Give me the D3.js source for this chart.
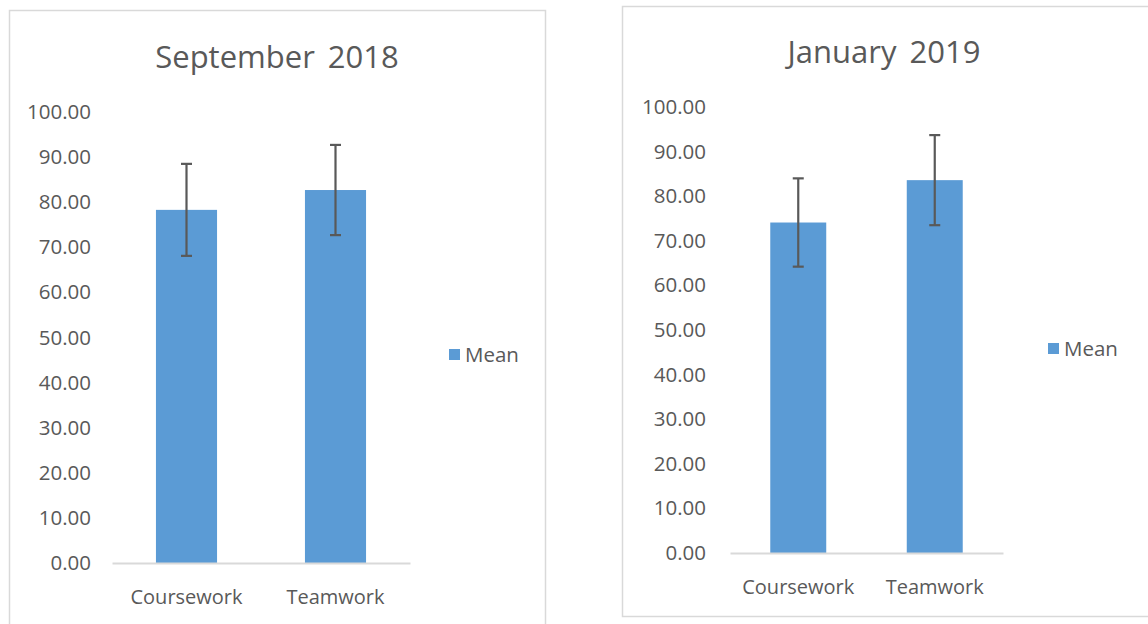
<!DOCTYPE html>
<html><head><meta charset="utf-8">
<script src="https://cdn.jsdelivr.net/npm/d3@7"></script>
<style>
html,body{margin:0;padding:0;background:#fff;}
svg{display:block;font-family:"Open Sans",sans-serif;}
</style></head>
<body><svg id="c" width="1148" height="624"></svg>
<script>
const categories = ["Coursework", "Teamwork"];
const titles = ["September 2018", "January 2019"];
const meansSep2018 = [78.3, 82.7];
const errorsSep2018 = [10.2, 10.0];
const meansJan2019 = [74.1, 83.6];
const errorsJan2019 = [9.9, 10.1];
const yTicks = [0, 10, 20, 30, 40, 50, 60, 70, 80, 90, 100];
const seriesName = "Mean";

const svg = d3.select("#c");
const BAR = "#5B9BD5", TXT = "#595959", ERR = "#595959", GRID = "#D9D9D9";

const panels = [
  {title: titles[0], means: meansSep2018, errs: errorsSep2018,
   box: [9.5, 10.5, 536, 630], x0: 112, x1: 410, yTop: 112, yBot: 563,
   titleX: 277, titleY: 68, labelY: 604, legX: 449, legY: 355, tickX: 91},
  {title: titles[1], means: meansJan2019, errs: errorsJan2019,
   box: [622.5, 6.5, 540, 610], x0: 730, x1: 1003, yTop: 107, yBot: 553,
   titleX: 884, titleY: 63, labelY: 594, legX: 1048, legY: 349, tickX: 706}
];

panels.forEach(p => {
  const g = svg.append("g");
  g.append("rect").attr("x", p.box[0]).attr("y", p.box[1]).attr("width", p.box[2]).attr("height", p.box[3])
    .attr("fill", "#fff").attr("stroke", GRID).attr("stroke-width", 1.5);

  const x = d3.scaleBand().domain(categories).range([p.x0, p.x1]).paddingInner(0.59).paddingOuter(0.295);
  const y = d3.scaleLinear().domain([0, 100]).range([p.yBot, p.yTop]);

  g.append("text").attr("x", p.titleX).attr("y", p.titleY).attr("text-anchor", "middle")
    .attr("fill", TXT).style("font-size", "31px").style("word-spacing", "5px").text(p.title);

  // y axis labels
  const ya = g.append("g").attr("transform", `translate(${p.tickX},0)`)
    .call(d3.axisLeft(y).tickValues(yTicks).tickFormat(d3.format(".2f")).tickSize(0).tickPadding(0));
  ya.select(".domain").remove();
  ya.selectAll("text").attr("fill", TXT).style("font-size", "20.5px").style("font-family", "'Open Sans',sans-serif");

  // bars
  g.selectAll(".bar").data(categories).join("rect")
    .attr("x", d => x(d)).attr("width", x.bandwidth())
    .attr("y", (d, i) => y(p.means[i])).attr("height", (d, i) => y(0) - y(p.means[i]))
    .attr("fill", BAR);

  // x axis
  const xa = g.append("g").attr("transform", `translate(0,${p.yBot})`)
    .call(d3.axisBottom(x).tickSize(0).tickPadding(0));
  xa.select(".domain").attr("stroke", GRID).attr("stroke-width", 2);
  xa.selectAll("text").attr("fill", TXT).style("font-size", "20px").style("font-family", "'Open Sans',sans-serif")
    .attr("dy", null).attr("y", p.labelY - p.yBot);

  // error bars
  const cx = d => x(d) + x.bandwidth() / 2;
  const eg = g.append("g").attr("stroke", ERR).attr("stroke-width", 2.2).attr("fill", "none");
  categories.forEach((c, i) => {
    const hi = y(p.means[i] + p.errs[i]), lo = y(p.means[i] - p.errs[i]);
    eg.append("line").attr("x1", cx(c)).attr("x2", cx(c)).attr("y1", hi).attr("y2", lo);
    eg.append("line").attr("x1", cx(c) - 5.5).attr("x2", cx(c) + 5.5).attr("y1", hi).attr("y2", hi);
    eg.append("line").attr("x1", cx(c) - 5.5).attr("x2", cx(c) + 5.5).attr("y1", lo).attr("y2", lo);
  });

  // legend
  g.append("rect").attr("x", p.legX).attr("y", p.legY - 6).attr("width", 11).attr("height", 11).attr("fill", BAR);
  g.append("text").attr("x", p.legX + 16).attr("y", p.legY + 7).attr("fill", TXT).style("font-size", "20.5px").text(seriesName);
});
</script></body></html>
